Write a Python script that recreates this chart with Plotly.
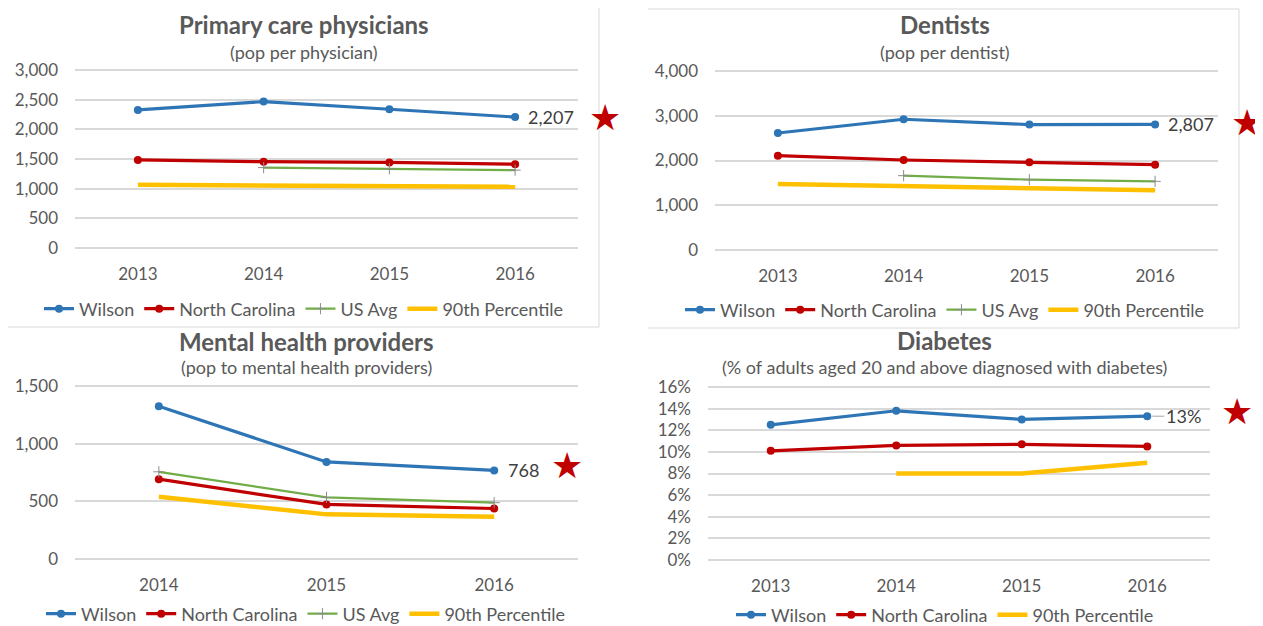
import plotly.graph_objects as go

W, H = 1263, 626
OX, OY = 8, 8          # page body margin offset of the rendered html
FONT = "Lato, 'Open Sans', sans-serif"
TXT = "#595959"
GRID = "#d9d9d9"

C_WILSON = "#2e75b6"
C_NC = "#c00000"
C_US = "#70ad47"
C_P90 = "#ffc000"
C_STAR = "#c00000"

# ---------------- data ----------------
years4 = ["2013", "2014", "2015", "2016"]
years3 = ["2014", "2015", "2016"]

pcp_wilson = [2327, 2467, 2338, 2207]
pcp_nc = [1485, 1455, 1442, 1413]
pcp_us = [None, 1355, 1335, 1312]
pcp_p90 = [1065, 1054, 1049, 1032]

den_wilson = [2615, 2922, 2803, 2807]
den_nc = [2108, 2011, 1960, 1907]
den_us = [None, 1661, 1572, 1534]
den_p90 = [1476, 1430, 1371, 1333]

mh_wilson = [1324, 842, 768]
mh_nc = [692, 473, 438]
mh_us = [756, 534, 488]
mh_p90 = [539, 387, 366]

dia_wilson = [12.5, 13.8, 13.0, 13.3]
dia_nc = [10.1, 10.6, 10.7, 10.5]
dia_p90 = [None, 8.0, 8.0, 9.0]

titles = ["Primary care physicians", "Dentists", "Mental health providers", "Diabetes"]
subtitles = ["(pop per physician)", "(pop per dentist)", "(pop to mental health providers)",
             "(% of adults aged 20 and above diagnosed with diabetes)"]

# ---------------- layout helpers (page pixels -> paper fractions) ----------------
def px(x):
    return (x - OX) / W

def py(y):
    return 1 - (y - OY) / H

def ydom(top_px, bot_px, lo, hi, padf=0.012):
    span = hi - lo
    pad = span * padf
    ppu = (bot_px - top_px) / span
    return [py(bot_px + pad * ppu), py(top_px - pad * ppu)], [lo - pad, hi + pad]

panels = [
    dict(cats=years4, series=[("Wilson", pcp_wilson), ("North Carolina", pcp_nc), ("US Avg", pcp_us), ("90th Percentile", pcp_p90)],
         box=(75, 578, 70, 248), lo=0, hi=3000, dtick=500, fmt=",d", suffix="",
         title_y=25, sub_y=52, cx=304, leg_y=309, star=(605, 118), label="{:,}", lab_shift=36),
    dict(cats=years4, series=[("Wilson", den_wilson), ("North Carolina", den_nc), ("US Avg", den_us), ("90th Percentile", den_p90)],
         box=(715, 1218, 71, 250), lo=0, hi=4000, dtick=1000, fmt=",d", suffix="",
         title_y=25, sub_y=52, cx=945, leg_y=310, star=(1247, 122), label="{:,}", lab_shift=36),
    dict(cats=years3, series=[("Wilson", mh_wilson), ("North Carolina", mh_nc), ("US Avg", mh_us), ("90th Percentile", mh_p90)],
         box=(75, 578, 386, 559), lo=0, hi=1500, dtick=500, fmt=",d", suffix="",
         title_y=341, sub_y=367, cx=306, leg_y=614, star=(567, 465), label="{:,}", lab_shift=29),
    dict(cats=years4, series=[("Wilson", dia_wilson), ("North Carolina", dia_nc), ("90th Percentile", dia_p90)],
         box=(708, 1210, 387, 560), lo=0, hi=16, dtick=2, fmt="d", suffix="%",
         title_y=340, sub_y=367, cx=945, leg_y=615, star=(1237, 412), label="pct", lab_shift=36),
]

style = {
    "Wilson": dict(mode="lines+markers", line=dict(color=C_WILSON, width=3.2),
                   marker=dict(symbol="circle", size=8, color=C_WILSON)),
    "North Carolina": dict(mode="lines+markers", line=dict(color=C_NC, width=3.2),
                           marker=dict(symbol="circle", size=8, color=C_NC)),
    "US Avg": dict(mode="lines+markers", line=dict(color=C_US, width=2.2),
                   marker=dict(symbol="cross-thin", size=8, color="#8c8c8c",
                               line=dict(color="#8c8c8c", width=1))),
    "90th Percentile": dict(mode="lines", line=dict(color=C_P90, width=4.5)),
}

fig = go.Figure()
annotations = []
shapes = []

for i, p in enumerate(panels, start=1):
    sfx = "" if i == 1 else str(i)
    xa, ya = "x" + sfx, "y" + sfx
    legname = "legend" + sfx
    left, right, top, bot = p["box"]
    yd, yr = ydom(top, bot, p["lo"], p["hi"])
    n = len(p["cats"])

    fig.update_layout(**{
        "xaxis" + sfx: dict(domain=[px(left), px(right)], anchor=ya, type="category",
                            range=[-0.5, n - 0.5], showgrid=False, zeroline=False,
                            showline=False, ticks="", ticklabelstandoff=12,
                            tickfont=dict(size=17, color=TXT, family=FONT),
                            automargin=False, fixedrange=True),
        "yaxis" + sfx: dict(domain=yd, anchor=xa, range=yr, dtick=p["dtick"], tick0=0,
                            tickformat=p["fmt"], ticksuffix=p["suffix"],
                            showgrid=True, gridcolor=GRID, gridwidth=1.5,
                            zeroline=False, showline=False, ticks="",
                            ticklabelstandoff=16,
                            tickfont=dict(size=17, color=TXT, family=FONT),
                            automargin=False, fixedrange=True),
        legname: dict(orientation="h", x=px(p["cx"]), y=py(p["leg_y"]),
                      xanchor="center", yanchor="middle", bgcolor="rgba(0,0,0,0)",
                      font=dict(size=18, color=TXT, family=FONT),
                      itemwidth=30, tracegroupgap=0, itemclick=False, itemdoubleclick=False),
    })

    for name, vals in p["series"]:
        fig.add_trace(go.Scatter(x=p["cats"], y=vals, name=name, xaxis=xa, yaxis=ya,
                                 legend=legname, connectgaps=False, hoverinfo="skip",
                                 **style[name]))

    # data label for Wilson's last value
    wl = p["series"][0][1][-1]
    if p["label"] == "pct":
        annotations.append(dict(x=n - 1, y=wl, xref=xa, yref=ya,
                                text=f"{round(wl)}%", showarrow=True, ax=p["lab_shift"], ay=0,
                                arrowhead=0, arrowwidth=1, arrowcolor="#a6a6a6", standoff=5,
                                font=dict(size=18, color="#404040", family=FONT)))
    else:
        annotations.append(dict(x=n - 1, y=wl, xref=xa, yref=ya,
                                text=p["label"].format(wl), showarrow=False,
                                xshift=p["lab_shift"], xanchor="center", yanchor="middle",
                                font=dict(size=18, color="#404040", family=FONT)))

    # titles
    annotations.append(dict(x=px(p["cx"]), y=py(p["title_y"]), xref="paper", yref="paper",
                            text=f"<b>{titles[i-1]}</b>", showarrow=False,
                            xanchor="center", yanchor="middle",
                            font=dict(size=24, color=TXT, family=FONT)))
    annotations.append(dict(x=px(p["cx"]), y=py(p["sub_y"]), xref="paper", yref="paper",
                            text=subtitles[i-1], showarrow=False,
                            xanchor="center", yanchor="middle",
                            font=dict(size=18, color=TXT, family=FONT)))
    # star
    sx, sy = p["star"]
    annotations.append(dict(x=px(sx), y=py(sy), xref="paper", yref="paper",
                            text="★", showarrow=False, xanchor="center", yanchor="middle",
                            font=dict(size=36, color=C_STAR, family="DejaVu Sans")))

# panel frames (light lines as in the source slide)
border = dict(color="#d9d9d9", width=1)
for x0, y0, x1, y1 in [(599, 0, 599, 327), (8, 327, 599, 327),
                       (648, 9, 1239, 9), (1239, 9, 1239, 328), (648, 328, 1239, 328)]:
    shapes.append(dict(type="line", xref="paper", yref="paper",
                       x0=px(x0), x1=px(x1), y0=py(y0), y1=py(y1), line=border))

fig.update_layout(width=W, height=H,
                  margin=dict(l=0, r=0, t=0, b=0, autoexpand=False),
                  template="none",
                  paper_bgcolor="white", plot_bgcolor="white",
                  annotations=annotations, shapes=shapes, showlegend=True,
                  font=dict(family=FONT, color=TXT))

fig.write_html("out.html", config={"displayModeBar": False})
